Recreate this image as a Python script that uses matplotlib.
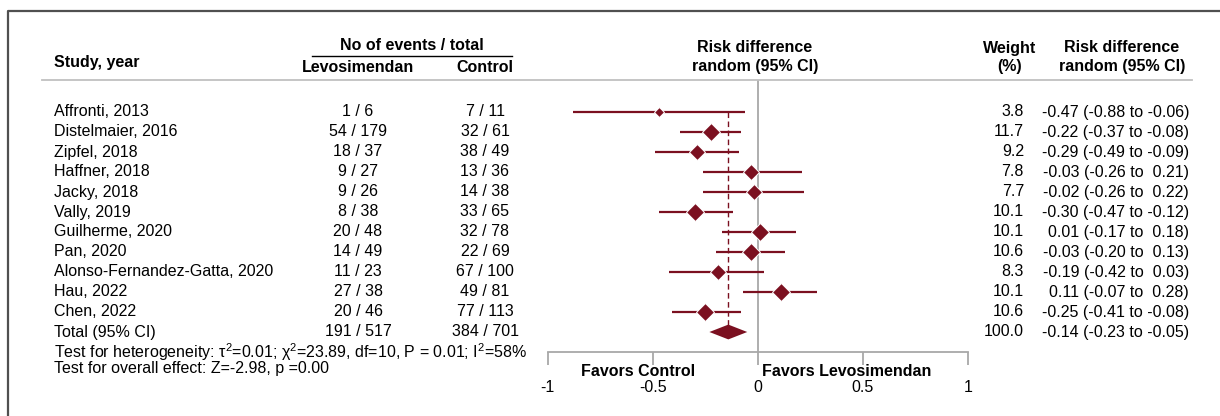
import matplotlib
matplotlib.use('Agg')
import matplotlib.pyplot as plt
import matplotlib.transforms as mtransforms
import numpy as np

plt.rcParams['font.family'] = ['Liberation Sans', 'DejaVu Sans']
plt.rcParams['mathtext.fontset'] = 'custom'
plt.rcParams['mathtext.rm'] = 'Liberation Sans'
plt.rcParams['mathtext.it'] = 'Liberation Sans:italic'
plt.rcParams['mathtext.bf'] = 'Liberation Sans:bold'

studies = [
    'Affronti, 2013', 'Distelmaier, 2016', 'Zipfel, 2018', 'Haffner, 2018',
    'Jacky, 2018', 'Vally, 2019', 'Guilherme, 2020', 'Pan, 2020',
    'Alonso-Fernandez-Gatta, 2020', 'Hau, 2022', 'Chen, 2022',
]
lev_events = [1, 54, 18, 9, 9, 8, 20, 14, 11, 27, 20]
lev_total = [6, 179, 37, 27, 26, 38, 48, 49, 23, 38, 46]
ctl_events = [7, 32, 38, 13, 14, 33, 32, 22, 67, 49, 77]
ctl_total = [11, 61, 49, 36, 38, 65, 78, 69, 100, 81, 113]
weights = [3.8, 11.7, 9.2, 7.8, 7.7, 10.1, 10.1, 10.6, 8.3, 10.1, 10.6]
rd = [-0.47, -0.22, -0.29, -0.03, -0.02, -0.30, 0.01, -0.03, -0.19, 0.11, -0.25]
rd_lo = [-0.88, -0.37, -0.49, -0.26, -0.26, -0.47, -0.17, -0.20, -0.42, -0.07, -0.41]
rd_hi = [-0.06, -0.08, -0.09, 0.21, 0.22, -0.12, 0.18, 0.13, 0.03, 0.28, -0.08]

total_label = 'Total (95% CI)'
total_lev = (191, 517)
total_ctl = (384, 701)
total_weight = 100.0
total_rd, total_lo, total_hi = -0.14, -0.23, -0.05

heterogeneity = 'Test for heterogeneity: τ$^2$=0.01; χ$^2$=23.89, df=10, P = 0.01; I$^2$=58%'
overall = 'Test for overall effect: Z=-2.98, p =0.00'

xticks = [-1, -0.5, 0, 0.5, 1]
xticklabels = ['-1', '-0.5', '0', '0.5', '1']

RED = '#7B1020'
GREY = '#A8A8A8'
FS = 11.5

W, H = 1220, 416


def fx(px):
    return px / W


def fy(py):
    return 1 - py / H


fig = plt.figure(figsize=(W / 100, H / 100), dpi=100)

# forest panel: -1..1 spans x 547..968 px, top at separator (80 px), axis at 352 px
ax = fig.add_axes([fx(547.5), fy(352), fx(968) - fx(547.5), fy(80) - fy(352)])
ax.set_xlim(-1, 1)
# row i sits at 112 + 20*i px
ax.set_ylim((352 - 112) / 20, (80 - 112) / 20)
ax.patch.set_alpha(0)
for side in ['top', 'right', 'left']:
    ax.spines[side].set_visible(False)
ax.spines['bottom'].set_color(GREY)
ax.spines['bottom'].set_linewidth(1.3)
ax.set_yticks([])
ax.set_xticks(xticks)
ax.set_xticklabels(xticklabels, fontsize=FS)
ax.tick_params(axis='x', direction='out', length=9.5, width=1.3, color=GREY, pad=11)

ax.axvline(0, color=GREY, lw=1.3, zorder=1)

n = len(studies)
rows = np.arange(n)
ax.vlines(total_rd, 0, n, colors=RED, linestyles=(0, (4, 2.5)), lw=1.0, zorder=2)
ax.hlines(rows, rd_lo, rd_hi, colors=RED, lw=1.6, zorder=3)
for i in range(n):
    ax.plot(rd[i], i, marker='D', color=RED, ms=2.8 * np.sqrt(weights[i]),
            mec='white', mew=0.7, zorder=4)
ax.fill([total_lo, total_rd, total_hi, total_rd], [n, n - 0.37, n, n + 0.37],
        color=RED, lw=0, zorder=4)

# labels under the axis
tr_fav = mtransforms.blended_transform_factory(ax.transData, fig.transFigure)
ax.text(-0.3, fy(371), 'Favors Control', transform=tr_fav, ha='right', va='center',
        fontsize=FS, fontweight='bold')
ax.text(0.02, fy(371), 'Favors Levosimendan', transform=tr_fav, ha='left', va='center',
        fontsize=FS, fontweight='bold')

# table text aligned to the rows of the forest panel
tr_row = mtransforms.blended_transform_factory(fig.transFigure, ax.transData)


def row_text(px, i, s, ha='left'):
    fig.text(fx(px), i, s, transform=tr_row, ha=ha, va='center', fontsize=FS)


for i in range(n):
    row_text(54, i, studies[i])
    row_text(358, i, f'{lev_events[i]} / {lev_total[i]}', ha='center')
    row_text(485, i, f'{ctl_events[i]} / {ctl_total[i]}', ha='center')
    row_text(1024, i, f'{weights[i]:.1f}', ha='right')
    row_text(1189, i, f'{rd[i]:.2f} ({rd_lo[i]:.2f} to {rd_hi[i]:5.2f})', ha='right')

row_text(54, n, total_label)
row_text(358, n, f'{total_lev[0]} / {total_lev[1]}', ha='center')
row_text(485, n, f'{total_ctl[0]} / {total_ctl[1]}', ha='center')
row_text(1024, n, f'{total_weight:.1f}', ha='right')
row_text(1189, n, f'{total_rd:.2f} ({total_lo:.2f} to {total_hi:.2f})', ha='right')

fig.text(fx(54), fy(352), heterogeneity, ha='left', va='center', fontsize=FS)
fig.text(fx(54), fy(368), overall, ha='left', va='center', fontsize=FS)

# header
bold = dict(fontsize=FS, fontweight='bold', va='center')
fig.text(fx(54), fy(62), 'Study, year', ha='left', **bold)
fig.text(fx(412), fy(45), 'No of events / total', ha='center', **bold)
fig.text(fx(358), fy(67), 'Levosimendan', ha='center', **bold)
fig.text(fx(485), fy(67), 'Control', ha='center', **bold)
fig.text(fx(755), fy(48), 'Risk difference', ha='center', **bold)
fig.text(fx(755), fy(67), 'random (95% CI)', ha='center', **bold)
fig.text(fx(1010), fy(48), 'Weight', ha='center', **bold)
fig.text(fx(1010), fy(67), '(%)', ha='center', **bold)
fig.text(fx(1122), fy(48), 'Risk difference', ha='center', **bold)
fig.text(fx(1122), fy(67), 'random (95% CI)', ha='center', **bold)

fig.add_artist(plt.Line2D([fx(312), fx(512)], [fy(56), fy(56)], color='black', lw=1.0))
fig.add_artist(plt.Line2D([fx(42), fx(1192)], [fy(80), fy(80)], color='#C0C0C0', lw=1.3))

# outer frame (left and top edges visible)
fig.add_artist(plt.Line2D([fx(8), fx(8), fx(1220)], [fy(416), fy(11), fy(11)],
                          color='#505050', lw=1.6))

fig.savefig('out.png', dpi=100)
